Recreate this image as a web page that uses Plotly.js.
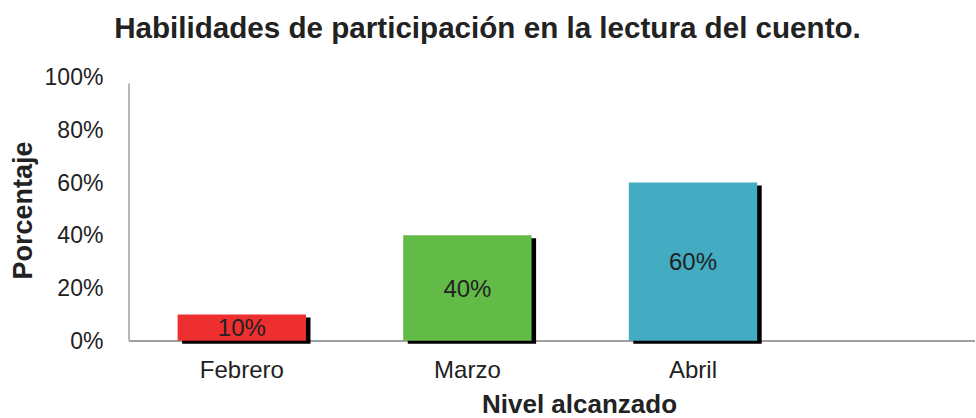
<!DOCTYPE html>
<html>
<head>
<meta charset="utf-8">
<script src="https://cdn.plot.ly/plotly-3.0.1.min.js"></script>
<style>
  html, body { margin: 0; padding: 0; background: #ffffff; }
  #chart { width: 976px; height: 418px; }
</style>
</head>
<body>
<div id="chart"></div>
<script>
// ---- Data ----
const months = ['Febrero', 'Marzo', 'Abril'];
const percentages = [10, 40, 60];
const barLabels = ['10%', '40%', '60%'];
const barColors = ['#ED2F2F', '#63BB47', '#43ACC3'];
const yTickValues = [0, 20, 40, 60, 80, 100];
const yTickLabels = ['0%', '20%', '40%', '60%', '80%', '100%'];

// ---- Styling constants ----
const FONT = '"Liberation Sans", Arial, Helvetica, sans-serif';
const TEXT_COLOR = '#222222';
const AXIS_COLOR = '#a0a0a0';
const BAR_WIDTH = 0.569;
const SHADOW_DX = 0.02;   // category units
const SHADOW_DY = 1.14;   // percent units

const shadowTrace = {
  type: 'bar',
  x: months,
  y: percentages,
  base: percentages.map(() => -SHADOW_DY),
  width: BAR_WIDTH,
  offset: -BAR_WIDTH / 2 + SHADOW_DX,
  marker: { color: '#000000', line: { width: 0 } },
  hoverinfo: 'skip',
  showlegend: false
};

const mainTrace = {
  type: 'bar',
  x: months,
  y: percentages,
  width: BAR_WIDTH,
  offset: -BAR_WIDTH / 2,
  marker: { color: barColors, line: { width: 0 } },
  text: barLabels,
  textposition: 'inside',
  insidetextanchor: 'middle',
  constraintext: 'none',
  textangle: 0,
  textfont: { family: FONT, size: 24, color: TEXT_COLOR },
  showlegend: false
};

const layout = {
  width: 976,
  height: 418,
  paper_bgcolor: '#ffffff',
  plot_bgcolor: '#ffffff',
  margin: { l: 129, r: 1, t: 76.5, b: 74.3, pad: 0 },
  barmode: 'overlay',
  font: { family: FONT, color: TEXT_COLOR },
  title: {
    text: '<b>Habilidades de participación en la lectura del cuento.</b>',
    font: { family: FONT, size: 29.6, color: TEXT_COLOR },
    x: 0.4995, xanchor: 'center',
    y: 0.935, yanchor: 'middle', yref: 'container'
  },
  xaxis: {
    type: 'category',
    range: [-0.5, 3.25],
    showline: false,
    showgrid: false,
    zeroline: false,
    ticks: 'outside',
    ticklen: 4,
    tickcolor: 'rgba(0,0,0,0)',
    tickfont: { family: FONT, size: 24, color: TEXT_COLOR },
    fixedrange: true
  },
  yaxis: {
    range: [-1.2, 100],
    tickvals: yTickValues,
    ticktext: yTickLabels,
    showline: false,
    showgrid: false,
    zeroline: true,
    zerolinecolor: AXIS_COLOR,
    zerolinewidth: 1.5,
    ticks: 'outside',
    ticklen: 20,
    tickcolor: 'rgba(0,0,0,0)',
    tickfont: { family: FONT, size: 23, color: TEXT_COLOR },
    title: {
      text: '<b>Porcentaje</b>',
      font: { family: FONT, size: 27, color: TEXT_COLOR },
      standoff: 4
    },
    fixedrange: true
  },
  shapes: [{
    type: 'line', xref: 'paper', yref: 'y',
    x0: 0, x1: 0, y0: 0, y1: 97.5,
    line: { color: AXIS_COLOR, width: 1.5 },
    layer: 'below'
  }],
  annotations: [{
    text: '<b>Nivel alcanzado</b>',
    xref: 'paper', yref: 'paper',
    x: 0.532, y: -0.226,
    xanchor: 'center', yanchor: 'middle',
    showarrow: false,
    font: { family: FONT, size: 26, color: TEXT_COLOR }
  }]
};

Plotly.newPlot('chart', [shadowTrace, mainTrace], layout, { displayModeBar: false, staticPlot: true });
</script>
</body>
</html>
